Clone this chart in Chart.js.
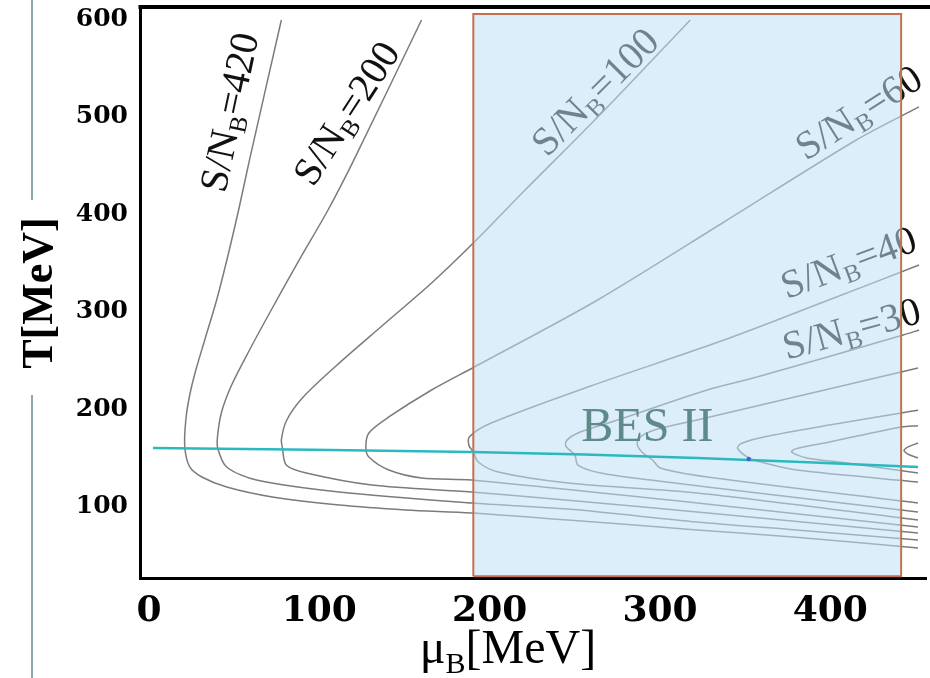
<!DOCTYPE html>
<html>
<head>
<meta charset="utf-8">
<script src="https://cdn.jsdelivr.net/npm/chart.js@4.4.0/dist/chart.umd.min.js"></script>
<style>
  html, body { margin: 0; padding: 0; background: #fff; }
  #wrap { width: 930px; height: 678px; }
</style>
</head>
<body>
<div id="wrap"><canvas id="chart" width="930" height="678"></canvas></div>
<script>
// isentropic trajectories, [muB, T] in MeV
const curve420 = [[77.7,599.6],[59,455.9],[52.6,404.5],[46.7,360.4],[39.7,312.1],[32.7,271],[27.5,240.2],[23.9,214.6],[21.6,188.9],[21,161.2],[23.9,140.7],[31.0,130.4],[45.6,120.1],[72.4,109.9],[111.6,101.6],[150.7,96.5],[189.3,93.4],[246,86.2],[285,81.1],[321.8,76],[380,68.5],[451.5,57.5]];
const curve200 = [[160,599.6],[120.3,455.9],[105.1,404.5],[88.2,353.2],[72.4,303.9],[59,260.8],[48.5,224.8],[42.6,197.1],[40.3,173.5],[40.3,160.2],[45.6,140.7],[63.1,127.3],[111.6,115],[189.3,103.7],[246,97.5],[321.8,84.2],[380,76],[451.5,65.7]];
const curve100 = [[317.8,599.6],[267.5,507.2],[220.8,425],[190.4,370.6],[165.9,329.6],[136.7,285.4],[109.8,244.4],[90,211.5],[80.6,187.9],[77.7,168.4],[78.3,160.2],[80.6,142.7],[92.3,134.5],[130.8,122.2],[189.3,115],[246,106.5],[321.8,94.5],[451.5,72.9]];
const curve60 = [[452.1,510.3],[415.3,476.4],[337.6,392.2],[263.4,312.1],[191,243.3],[165.9,219.7],[140.8,192],[129.1,175.6],[127.3,161],[129.1,150.9],[140.8,137.6],[160,129.4],[189.3,127.3],[321.8,103.7],[451.5,79.1]];
const curve40 = [[452.1,348],[396,310],[337.6,271],[259.3,223.8],[200.9,185.8],[188.3,172],[187.8,163],[190.4,156.1],[193.3,145.8],[205,135.5],[246,124.2],[321.8,114],[451.5,86.2]];
const curve30 = [[452.1,281.3],[442.8,276.2],[356.9,233],[327.7,219.7],[275.1,188.9],[251.8,175.6],[245.3,168],[244.7,162],[250,153],[251.8,142.7],[265.2,134.5],[294.4,127.3],[327.7,120.1],[451.5,94.5]];
const curveA = [[451.5,242.3],[441.6,238.2],[321.8,188.9],[296.7,178.6],[287.5,170],[286.8,163],[290,155],[295.6,147.8],[300.2,139.6],[327.7,130.4],[451.5,103.7]];
const curveB = [[451.5,199],[441.6,196.1],[399.5,183.8],[361,171.5],[348,165],[345.5,160],[352.2,150],[361.6,144.8],[380.3,137.6],[451.5,125.3]];
const curveC = [[451.5,183],[441.6,181.7],[399.5,166.3],[380,159.5],[377.3,156.1],[386.1,149.9],[409.5,144.8],[451.5,134.5]];
const curveD = [[451.5,165.3],[446,161.5],[443.3,157.5],[446,153.5],[451.5,149.9]];

// transition line (cyan) and the marked point on it
const transitionMu = [2.3, 189.3, 321.8, 451.5];
const transitionT = [160.2, 156.1, 149.9, 140.7];
const criticalPoint = [352.1, 148.8];

// BES II range
const besMu = [190.4, 441.6];
const besT = [28.5, 605.7];

const xTicks = [0, 100, 200, 300, 400];
const yTicks = [100, 200, 300, 400, 500, 600];

// S/NB labels: value, anchor (muB, T), angle on screen
const snbLabels = ['420', '200', '100', '60', '40', '30'];
const snbMu = [47, 115.7, 261.7, 416.5, 410.6, 412.4];
const snbT = [505, 504, 526, 505, 351, 283];
const snbAngle = [-78, -57, -45, -32.6, -20.6, -15.4];

const toPts = arr => arr.map(p => ({ x: p[0], y: p[1] }));

const curves = [curve420, curve200, curve100, curve60, curve40, curve30, curveA, curveB, curveC, curveD];
const datasets = curves.map(c => ({
    data: toPts(c),
    borderColor: '#7b7b7b',
    borderWidth: 1.5,
    pointRadius: 0,
    tension: 0.3,
    fill: false,
    order: 3
}));

datasets.push({
    data: [
        { x: besMu[0], y: besT[0] }, { x: besMu[0], y: besT[1] },
        { x: besMu[1], y: besT[1] }, { x: besMu[1], y: besT[0] },
        { x: besMu[0], y: besT[0] }
    ],
    borderColor: '#c4714f',
    borderWidth: 2,
    backgroundColor: 'rgba(191,224,246,0.55)',
    fill: 'shape',
    pointRadius: 0,
    tension: 0,
    order: 2
});

datasets.push({
    data: transitionMu.map((m, i) => ({ x: m, y: transitionT[i] })),
    borderColor: '#2bb9bf',
    borderWidth: 2.5,
    pointRadius: 0,
    tension: 0.3,
    fill: false,
    order: 1
});

datasets.push({
    data: [{ x: criticalPoint[0], y: criticalPoint[1] }],
    showLine: false,
    pointRadius: 2.2,
    pointBackgroundColor: '#4a5ae0',
    pointBorderWidth: 0,
    order: 0
});

function drawSnb(ctx, x, y, ang, num, size) {
    ctx.save();
    ctx.translate(x, y);
    ctx.rotate(ang * Math.PI / 180);
    const big = size + 'px "Liberation Serif"';
    const small = Math.round(size * 0.62) + 'px "Liberation Serif"';
    ctx.font = big;
    const w1 = ctx.measureText('S/N').width;
    const w3 = ctx.measureText('=' + num).width;
    ctx.font = small;
    const w2 = ctx.measureText('B').width;
    let cx = -(w1 + w2 + w3) / 2;
    const base = size * 0.33;
    ctx.fillStyle = '#111';
    ctx.textBaseline = 'alphabetic';
    ctx.textAlign = 'left';
    ctx.font = big;
    ctx.fillText('S/N', cx, base);
    cx += w1;
    ctx.font = small;
    ctx.fillText('B', cx, base + size * 0.17);
    cx += w2;
    ctx.font = big;
    ctx.fillText('=' + num, cx, base);
    ctx.restore();
}

const extras = {
    id: 'extras',
    beforeDatasetsDraw(chart) {
        const { ctx, scales } = chart;
        snbLabels.forEach((t, i) => {
            drawSnb(ctx, scales.x.getPixelForValue(snbMu[i]), scales.y.getPixelForValue(snbT[i]), snbAngle[i], t, 40);
        });
    },
    afterDatasetsDraw(chart) {
        const { ctx, scales } = chart;
        ctx.save();
        ctx.font = '48px "Liberation Serif"';
        ctx.fillStyle = '#5e8a89';
        ctx.textAlign = 'center';
        ctx.textBaseline = 'middle';
        ctx.fillText('BES II', scales.x.getPixelForValue(292.6), scales.y.getPixelForValue(180.7));
        ctx.restore();
    },
    afterDraw(chart) {
        const { ctx, chartArea } = chart;
        ctx.save();
        // top frame line
        ctx.strokeStyle = '#000';
        ctx.lineWidth = 4;
        ctx.beginPath();
        ctx.moveTo(chartArea.left - 1.5, chartArea.top - 1);
        ctx.lineTo(chart.width, chartArea.top - 1);
        ctx.stroke();
        // slide rule at the left
        ctx.strokeStyle = '#8ea8ad';
        ctx.lineWidth = 2;
        ctx.beginPath();
        ctx.moveTo(32, 0); ctx.lineTo(32, 200);
        ctx.moveTo(32, 395); ctx.lineTo(32, 678);
        ctx.stroke();
        // x axis title with subscript
        ctx.fillStyle = '#000';
        ctx.textBaseline = 'alphabetic';
        ctx.textAlign = 'left';
        const big = '48px "Liberation Serif"', small = '30px "Liberation Serif"';
        ctx.font = big; const a = ctx.measureText('\u03bc').width, c = ctx.measureText('[MeV]').width;
        ctx.font = small; const b = ctx.measureText('B').width;
        let x = 508 - (a + b + c) / 2;
        ctx.font = big; ctx.fillText('\u03bc', x, 663); x += a;
        ctx.font = small; ctx.fillText('B', x, 673); x += b;
        ctx.font = big; ctx.fillText('[MeV]', x, 663);
        ctx.restore();
    }
};

new Chart(document.getElementById('chart'), {
    type: 'line',
    data: { datasets },
    options: {
        responsive: false,
        animation: false,
        layout: { padding: { top: 8, left: 0, right: 0, bottom: 0 } },
        plugins: { legend: { display: false }, tooltip: { enabled: false } },
        scales: {
            x: {
                type: 'linear',
                min: -5.3,
                max: 456.2,
                afterBuildTicks: axis => { axis.ticks = xTicks.map(v => ({ value: v })); },
                afterFit: axis => {
                    axis.height = 100;
                    axis.paddingLeft = 0;
                    axis.paddingRight = 0;
                },
                grid: { display: false, drawTicks: false },
                border: { display: true, color: '#000', width: 3 },
                ticks: {
                    autoSkip: false,
                    maxRotation: 0,
                    padding: 12,
                    color: '#000',
                    font: { family: 'DejaVu Serif', size: 36, weight: 'bold' }
                }
            },
            y: {
                type: 'linear',
                min: 26.7,
                max: 611.9,
                afterBuildTicks: axis => { axis.ticks = yTicks.map(v => ({ value: v })); },
                afterFit: axis => {
                    axis.width = 140;
                    axis.paddingTop = 0;
                    axis.paddingBottom = 0;
                },
                grid: { display: false, drawTicks: false },
                border: { display: true, color: '#000', width: 3 },
                ticks: {
                    autoSkip: false,
                    padding: 12,
                    color: '#000',
                    font: { family: 'DejaVu Serif', size: 25, weight: 'bold' }
                },
                title: {
                    display: true,
                    text: 'T[MeV]',
                    color: '#000',
                    padding: { top: 14, bottom: 0 },
                    font: { family: 'Liberation Serif', size: 44, weight: 'bold' }
                }
            }
        }
    },
    plugins: [extras]
});
</script>
</body>
</html>
